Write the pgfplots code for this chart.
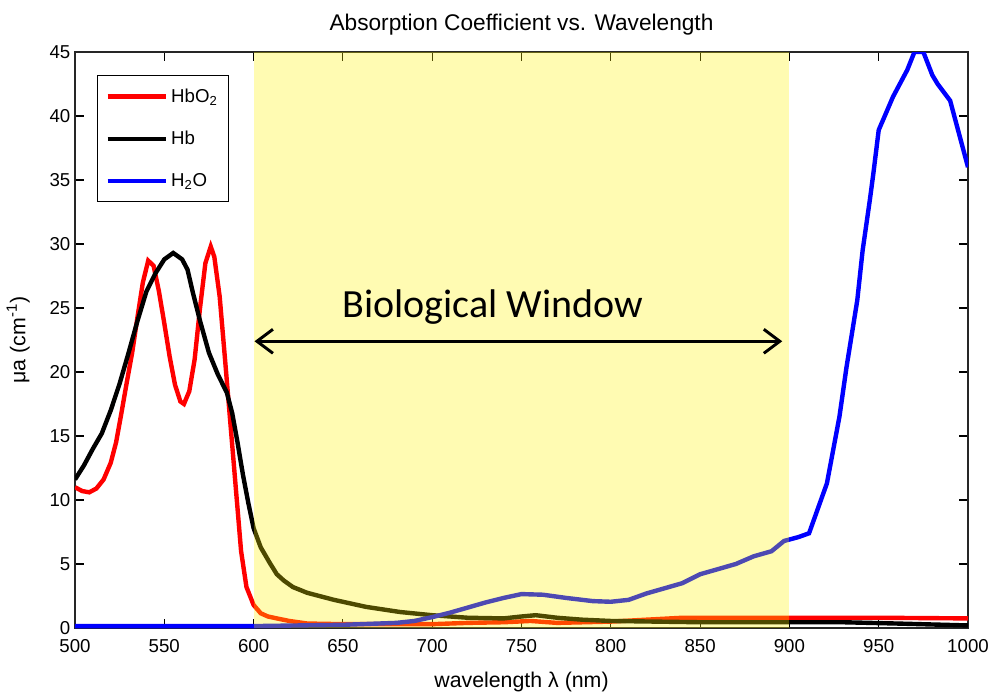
\documentclass[border=0pt]{standalone}
\usepackage{pgfplots}
\pgfplotsset{compat=1.18}
\usepackage{pgfplotstable}
\usepackage{fontspec}
\setmainfont{Liberation Sans}
\newfontfamily\calibri{Carlito}
\usetikzlibrary{arrows.meta}

\pgfplotstableread{
x y
500 11.0
504 10.7
508 10.6
512 10.9
516 11.6
520 12.9
523 14.5
526 16.8
529 19.2
532 21.5
535 24.3
538 27.0
541 28.7
544 28.3
547 26.3
550 23.8
553 21.2
556 19.0
559 17.7
561 17.5
564 18.5
567 21.0
570 25.0
573 28.5
576 29.8
578 29.0
581 25.9
584 21.0
587 16.0
590 11.0
593 6.0
596 3.2
600 1.8
604 1.15
608 0.9
613 0.75
620 0.55
630 0.35
650 0.3
700 0.3
720 0.4
740 0.45
755 0.55
770 0.4
800 0.5
820 0.65
840 0.8
900 0.8
950 0.8
1000 0.75
}\hbotwo

\pgfplotstableread{
x y
500 11.6
505 12.7
510 14.0
515 15.2
520 17.0
525 19.1
530 21.5
535 24.0
540 26.3
545 27.7
550 28.8
555 29.3
560 28.8
563 28.0
566 26.2
570 24.0
575 21.5
580 19.8
585 18.4
588 16.8
591 14.5
594 12.0
597 9.8
600 7.8
604 6.3
609 5.1
613 4.2
617 3.7
622 3.2
630 2.75
645 2.2
663 1.65
682 1.25
700 1.0
720 0.8
740 0.75
750 0.9
758 1.0
770 0.8
784 0.65
800 0.55
850 0.45
900 0.45
930 0.45
960 0.35
1000 0.2
}\hb

\pgfplotstableread{
x y
500 0.15
600 0.15
650 0.25
680 0.4
690 0.55
700 0.85
710 1.2
720 1.6
730 2.0
740 2.35
750 2.65
762 2.6
775 2.35
790 2.1
800 2.05
810 2.2
820 2.7
830 3.1
840 3.5
850 4.2
860 4.6
870 5.0
880 5.6
890 6.0
897 6.8
905 7.1
911 7.4
921 11.3
928 16.5
932 20.4
938 25.6
941 29.5
945 33.4
947 35.5
950 38.9
958 41.5
966 43.6
970 45
975 45
980 43.2
983 42.5
990 41.2
1000 36
}\water

\begin{document}
\begin{tikzpicture}
\begin{axis}[
  scale only axis,
  width=669.75pt, height=432pt,
  xmin=500, xmax=1000, ymin=0, ymax=45,
  xtick={500,550,...,1000},
  ytick={0,5,...,45},
  tick align=inside,
  major tick length=7pt,
  every tick/.style={black, line width=0.8pt},
  axis line style={line width=0.9pt, black!85},
  /pgf/number format/assume math mode=true,
  /pgf/number format/1000 sep={},
  tick label style={font=\fontsize{14}{16}\selectfont},
  xticklabel style={yshift=-5pt},
  title={Absorption Coefficient vs. Wavelength},
  title style={font=\fontsize{17}{20}\selectfont, yshift=3pt},
  xlabel={wavelength λ (nm)},
  ylabel={μa (cm\textsuperscript{-1})},
  label style={font=\fontsize{16}{19}\selectfont},
  xlabel style={yshift=-8pt},
  ylabel style={yshift=8pt},
  legend image code/.code={\draw[#1] (0pt,0pt) -- (44pt,0pt);},
  legend style={at={(0.0246,0.960)}, anchor=north west,
    font=\fontsize{14}{16}\selectfont, draw=black, line width=0.8pt,
    inner xsep=6pt, inner ysep=8pt, row sep=16pt,
    cells={anchor=west}},
]
\addplot[red, line width=3.3pt] table[x=x,y=y] {\hbotwo};
\addlegendentry{HbO\textsubscript{2}}
\addplot[black, line width=3.3pt] table[x=x,y=y] {\hb};
\addlegendentry{Hb}
\addplot[blue, line width=3.3pt] table[x=x,y=y] {\water};
\addlegendentry{H\textsubscript{2}O}
\fill[yellow, opacity=0.3] (axis cs:600,0) rectangle (axis cs:900,45);
\draw[line width=2.2pt, {Straight Barb[length=12pt,width=18pt]}-{Straight Barb[length=12pt,width=18pt]}]
  (axis cs:600.5,22.4) -- (axis cs:896,22.4);
\node[font=\calibri\fontsize{30}{34}\selectfont] at (axis cs:734,25.1) {Biological Window};
\end{axis}
\pgfresetboundingbox
\path (-56.25pt,-48.75pt) rectangle (687pt,471pt);
\end{tikzpicture}
\end{document}
